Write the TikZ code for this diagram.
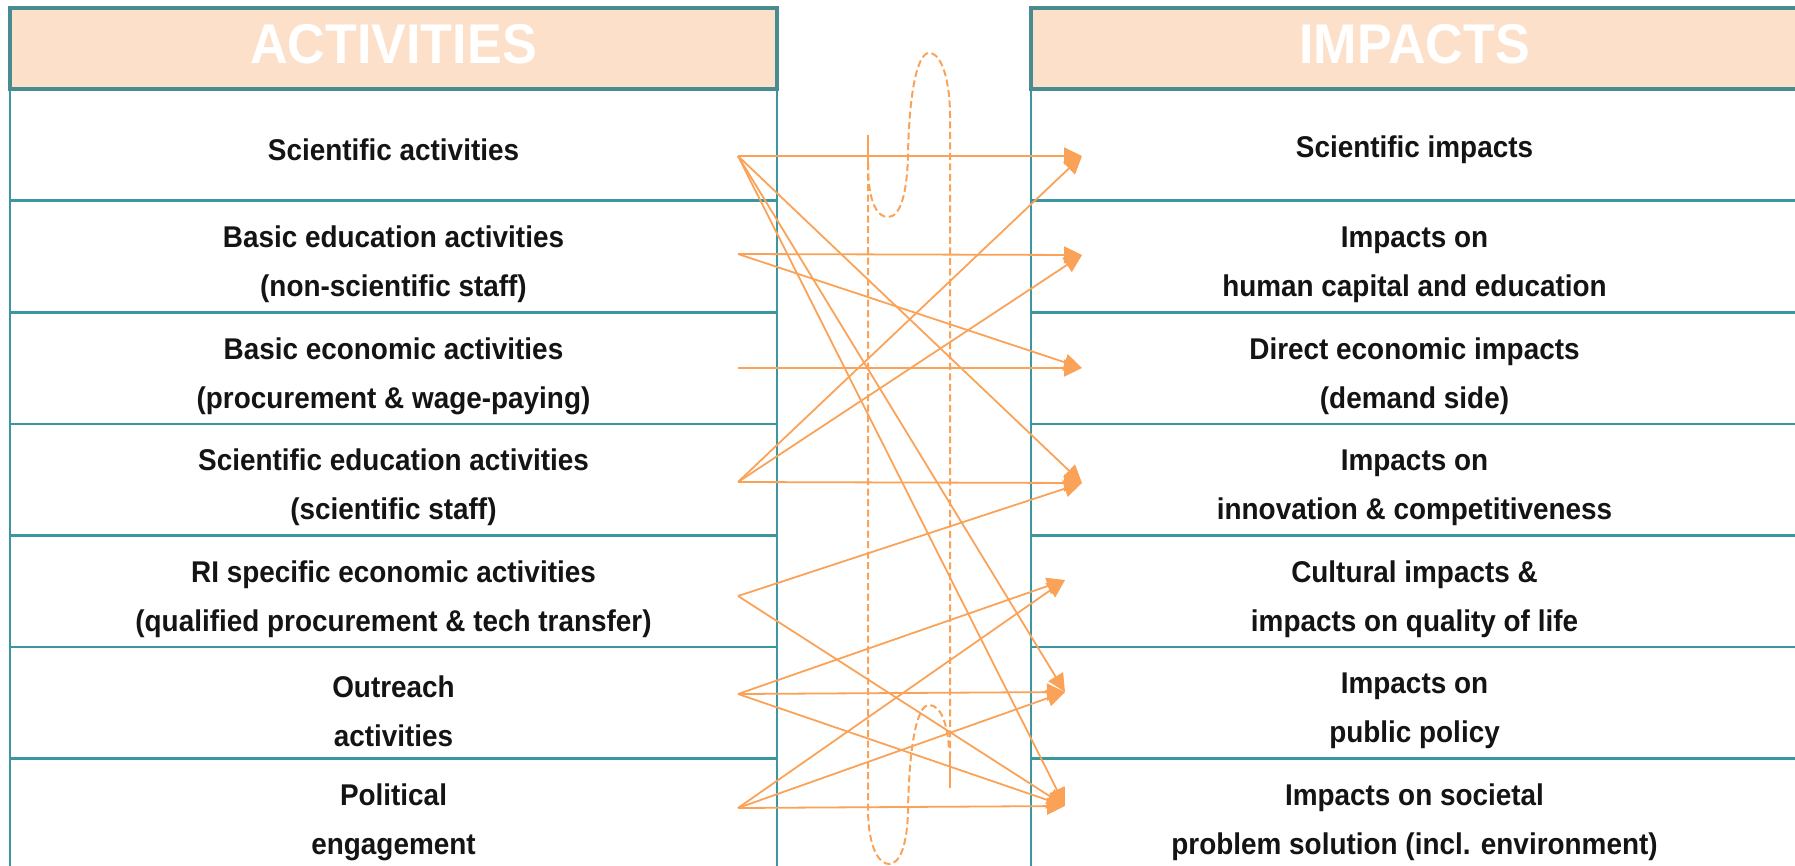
\documentclass[tikz,border=0pt]{standalone}
\usepackage{fontspec}
\setmainfont{Liberation Sans}
\newfontfamily\cellfont[FakeStretch=0.93]{Liberation Sans}
\usetikzlibrary{arrows.meta}
\definecolor{peach}{RGB}{253,224,201}
\definecolor{tealline}{RGB}{60,150,160}
\definecolor{tealdark}{RGB}{72,140,145}
\definecolor{arrowor}{RGB}{250,163,88}
\definecolor{txt}{RGB}{20,20,20}
\begin{document}
\begin{tikzpicture}[x=1pt,y=-1pt,
  hdr/.style={draw=tealdark, line width=3.2pt, fill=peach, minimum width=767pt, minimum height=81pt, inner sep=0pt},
  hdrtext/.style={font=\cellfont\fontsize{56}{56}\selectfont\bfseries, text=white, inner sep=0pt},
  cell/.style={draw=tealline, line width=2.6pt, minimum width=767pt, minimum height=111.6pt, inner sep=0pt},
  celltext/.style={align=center, inner sep=0pt, font=\cellfont\fontsize{30}{49}\selectfont\bfseries, text=txt},
  link/.style={draw=arrowor, line width=1.8pt, -{Triangle[length=18pt,width=17pt]}},
  loopline/.style={draw=arrowor, line width=2pt, dash pattern=on 7pt off 3.5pt},
  tickline/.style={draw=arrowor, line width=1.8pt}]
\useasboundingbox (0,0) rectangle (1795,865);
\clip (0,0) rectangle (1795,865);
% left table
\node[cell] (a1) at (393.5,144.8) {};
\node[cell] (a2) at (393.5,256.4) {};
\node[cell] (a3) at (393.5,368.0) {};
\node[cell] (a4) at (393.5,479.6) {};
\node[cell] (a5) at (393.5,591.2) {};
\node[cell] (a6) at (393.5,702.8) {};
\node[cell] (a7) at (393.5,814.4) {};
\node[hdr] (ha) at (393.5,48.5) {};
% right table
\node[cell] (b1) at (1414.5,144.8) {};
\node[cell] (b2) at (1414.5,256.4) {};
\node[cell] (b3) at (1414.5,368.0) {};
\node[cell] (b4) at (1414.5,479.6) {};
\node[cell] (b5) at (1414.5,591.2) {};
\node[cell] (b6) at (1414.5,702.8) {};
\node[cell] (b7) at (1414.5,814.4) {};
\node[hdr] (hb) at (1414.5,48.5) {};
% texts
\node[hdrtext] (tha) at ([yshift=4pt]ha.center) {ACTIVITIES};
\node[hdrtext] (thb) at ([yshift=4pt]hb.center) {IMPACTS};
\node[celltext] (ta1) at ([yshift=-5pt]a1.center) {Scientific activities};
\node[celltext] (ta2) at ([yshift=-8pt]a2.center) {Basic education activities\\(non-scientific staff)};
\node[celltext] (ta3) at ([yshift=-8pt]a3.center) {Basic economic activities\\(procurement \& wage-paying)};
\node[celltext] (ta4) at ([yshift=-8pt]a4.center) {Scientific education activities\\(scientific staff)};
\node[celltext] (ta5) at ([yshift=-8pt]a5.center) {RI specific economic activities\\(qualified procurement \& tech transfer)};
\node[celltext] (ta6) at ([yshift=-8pt]a6.center) {Outreach\\activities};
\node[celltext] (ta7) at ([yshift=-8pt]a7.center) {Political\\engagement};
\node[celltext] (tb1) at ([yshift=-5pt]b1.center) {Scientific impacts};
\node[celltext] (tb2) at ([yshift=-8pt]b2.center) {Impacts on\\human capital and education};
\node[celltext] (tb3) at ([yshift=-8pt]b3.center) {Direct economic impacts\\(demand side)};
\node[celltext] (tb4) at ([yshift=-8pt]b4.center) {Impacts on\\innovation \& competitiveness};
\node[celltext] (tb5) at ([yshift=-8pt]b5.center) {Cultural impacts \&\\impacts on quality of life};
\node[celltext] (tb6) at ([yshift=-8pt]b6.center) {Impacts on\\public policy};
\node[celltext] (tb7) at ([yshift=-8pt]b7.center) {Impacts on societal\\problem solution (incl. environment)};
% dashed loops
\draw[tickline] (868,135) -- (868,163);
\draw[loopline] (868,163) .. controls (868,205) and (878,217) .. (888,217) .. controls (900,217) and (907,195) .. (908,155) .. controls (909,95) and (917,53) .. (929,53) .. controls (943,53) and (950,85) .. (950,115) -- (950,755);
\draw[tickline] (950,755) -- (950,788);
\draw[loopline] (868,163) -- (868,808) .. controls (868,850) and (880,864) .. (889,864) .. controls (900,864) and (907,845) .. (908,812) .. controls (909,745) and (917,705) .. (929,705) .. controls (941,705) and (948,725) .. (949,750);
% connector ends
\coordinate (s1) at (738,156);
\coordinate (s2) at (738,254);
\coordinate (s3) at (738,368);
\coordinate (s4) at (738,482);
\coordinate (s5) at (738,596);
\coordinate (s6) at (738,694);
\coordinate (s7) at (738,808);
\coordinate (t1) at (1082,156);
\coordinate (t2) at (1082,255);
\coordinate (t3) at (1082,368);
\coordinate (t4) at (1082,483);
\coordinate (t5) at (1065,580);
\coordinate (t6) at (1065,692);
\coordinate (t7) at (1065,806);
% connectors
\draw[link] (s1) -- (t1);
\draw[link] (s1) -- (t4);
\draw[link] (s1) -- (t6);
\draw[link] (s1) -- (t7);
\draw[link] (s2) -- (t2);
\draw[link] (s2) -- (t3);
\draw[link] (s3) -- (t3);
\draw[link] (s4) -- (t1);
\draw[link] (s4) -- (t2);
\draw[link] (s4) -- (t4);
\draw[link] (s5) -- (t4);
\draw[link] (s5) -- (t7);
\draw[link] (s6) -- (t5);
\draw[link] (s6) -- (t6);
\draw[link] (s6) -- (t7);
\draw[link] (s7) -- (t5);
\draw[link] (s7) -- (t6);
\draw[link] (s7) -- (t7);
\end{tikzpicture}
\end{document}
